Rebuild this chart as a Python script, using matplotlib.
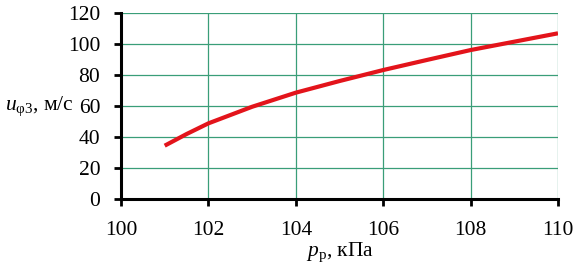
import matplotlib
matplotlib.use("Agg")
import matplotlib.pyplot as plt

p_kpa = [101, 101.5, 102, 103, 104, 105, 106, 107, 108, 109, 110]
u_ms = [34.4, 41.9, 48.8, 59.5, 68.6, 76.1, 83.2, 89.7, 96.1, 101.5, 106.9]
x_ticks = [100, 102, 104, 106, 108, 110]
y_ticks = [0, 20, 40, 60, 80, 100, 120]

plt.rcParams['font.family'] = ['Liberation Serif', 'DejaVu Serif']
plt.rcParams['mathtext.fontset'] = 'custom'
plt.rcParams['mathtext.rm'] = 'Liberation Serif'
plt.rcParams['mathtext.it'] = 'Liberation Serif:italic'

fig = plt.figure(figsize=(5.76, 2.65), dpi=100)
ax = fig.add_axes([121/576, 1-199/265, (558-121)/576, (199-13)/265])

grid_c = '#3a9e78'
ax.plot(p_kpa, u_ms, color='#e3141b', lw=3.0, solid_capstyle='butt',
        solid_joinstyle='round', zorder=3)
ax.set_xlim(100, 110)
ax.set_ylim(0, 120)
ax.set_xticks(x_ticks)
ax.set_yticks(y_ticks)
ax.grid(True, color=grid_c, lw=0.9)
ax.set_axisbelow(True)
for s in ['top', 'right']:
    ax.spines[s].set_visible(False)
for s in ['left', 'bottom']:
    ax.spines[s].set_linewidth(2.2)
    ax.spines[s].set_color('black')
ax.tick_params(axis='both', direction='out', length=5, width=2, labelsize=15.5, colors='black')
ax.tick_params(axis='y', pad=10)
ax.tick_params(axis='x', pad=11)

ax.set_xlabel('$p_{\\mathrm{р}}$, кПа', fontsize=15.5, labelpad=0)
ax.set_ylabel('$u_{\\mathrm{φ3}}$, м/с', fontsize=15.5, rotation=0, ha='right', va='center')
ax.yaxis.set_label_coords(-0.108, 0.5)

fig.savefig('out.png', dpi=100)
